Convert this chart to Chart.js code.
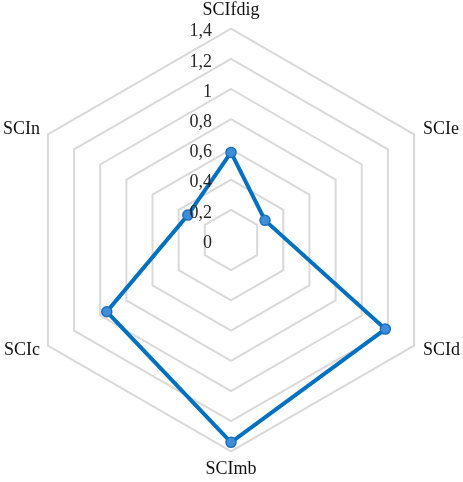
<!DOCTYPE html>
<html>
<head>
<meta charset="utf-8">
<script src="https://cdn.jsdelivr.net/npm/chart.js@4/dist/chart.umd.min.js"></script>
<style>
html,body{margin:0;padding:0;background:#fff;}
#c{display:block;}
</style>
</head>
<body>
<canvas id="c" width="463" height="482"></canvas>
<script>
const categories = ['SCIfdig', 'SCIe', 'SCId', 'SCImb', 'SCIc', 'SCIn'];
const values = [0.58, 0.26, 1.18, 1.34, 0.95, 0.33];
const tickValues = [0, 0.2, 0.4, 0.6, 0.8, 1, 1.2, 1.4];
const tickLabels = ['0', '0,2', '0,4', '0,6', '0,8', '1', '1,2', '1,4'];

const FONT = '"Liberation Serif", "Times New Roman", serif';

// label placement relative to each axis end: [align, dx, dy]
const labelPlace = [
  ['center', 0, -18],
  ['left', 9, -5],
  ['left', 9, 5],
  ['center', 0, 18],
  ['right', -8, 5],
  ['right', -8, -5]
];

const labelPlugin = {
  id: 'labelPlugin',
  afterDatasetsDraw(chart) {
    const s = chart.scales.r;
    const ctx = chart.ctx;
    ctx.save();
    ctx.font = '18px ' + FONT;
    ctx.fillStyle = '#262626';
    ctx.textAlign = 'right';
    ctx.textBaseline = 'middle';
    tickValues.forEach((v, i) => {
      const d = s.getDistanceFromCenterForValue(v);
      ctx.fillText(tickLabels[i], s.xCenter - 19, s.yCenter - d + 3);
    });
    ctx.fillStyle = '#111';
    categories.forEach((c, i) => {
      const p = s.getPointPosition(i, s.drawingArea);
      const [al, dx, dy] = labelPlace[i];
      ctx.textAlign = al;
      ctx.fillText(c, p.x + dx, p.y + dy);
    });
    ctx.restore();
  }
};

new Chart(document.getElementById('c'), {
  type: 'radar',
  data: {
    labels: categories,
    datasets: [{
      data: values,
      borderColor: '#0070C0',
      borderWidth: 4,
      backgroundColor: 'rgba(0,0,0,0)',
      fill: false,
      pointRadius: 5,
      pointBackgroundColor: '#3F8FD8',
      pointBorderColor: '#1F6FBF',
      pointBorderWidth: 1.5,
      tension: 0
    }]
  },
  options: {
    responsive: false,
    animation: false,
    layout: { padding: 0 },
    plugins: { legend: { display: false }, tooltip: { enabled: false } },
    scales: {
      r: {
        min: 0,
        max: 1.4,
        ticks: { stepSize: 0.2, display: false },
        angleLines: { display: false },
        grid: { color: '#D9D9D9', lineWidth: 2 },
        pointLabels: {
          font: { family: FONT, size: 18 },
          color: 'rgba(0,0,0,0)',
          padding: 8
        }
      }
    }
  },
  plugins: [labelPlugin]
});
</script>
</body>
</html>
